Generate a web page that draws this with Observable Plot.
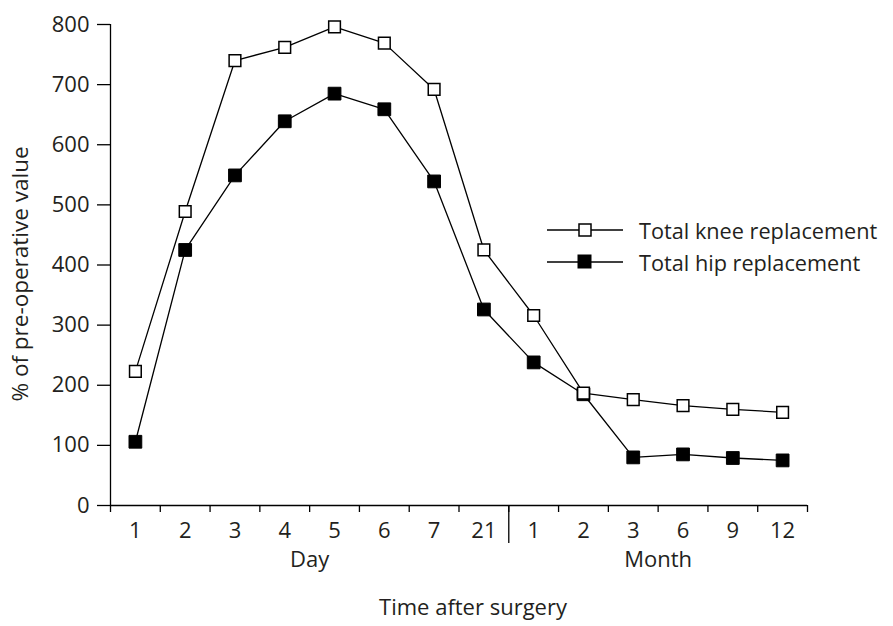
<!DOCTYPE html>
<html>
<head>
<meta charset="utf-8">
<script src="https://cdn.jsdelivr.net/npm/d3@7"></script>
<script src="https://cdn.jsdelivr.net/npm/@observablehq/plot@0.6"></script>
<style>
  body { margin: 0; background: #fff; }
  #wrap { position: relative; width: 893px; height: 626px; font-family: "Open Sans", sans-serif; color: #231f20; }
  #legend { position: absolute; left: 546px; top: 214px; }
  .row { display: flex; align-items: center; height: 32px; font-size: 21.7px; }
  .row svg { margin-right: 15px; }
</style>
</head>
<body>
<div id="wrap"><div id="legend"></div></div>
<script>
// Categories (time points) and their unit groups
const xLabels = ["1","2","3","4","5","6","7","21","1","2","3","6","9","12"];
const units   = ["Day","Day","Day","Day","Day","Day","Day","Day","Month","Month","Month","Month","Month","Month"];
// Series values (% of pre-operative value)
const knee = [223, 489, 740, 762, 796, 769, 692, 425, 316, 187, 176, 166, 160, 155];
const hip  = [106, 425, 549, 639, 685, 659, 539, 326, 238, 185,  80,  85,  79,  75];
const seriesNames = ["Total knee replacement", "Total hip replacement"];
const yTicks = [0, 100, 200, 300, 400, 500, 600, 700, 800];
const yTitle = "% of pre-operative value";
const xTitle = "Time after surgery";

const rows = xLabels.map((l, i) => ({i, pos: i + 0.5, label: l, unit: units[i], knee: knee[i], hip: hip[i]}));
const groupNames = Array.from(new Set(units));
const groups = groupNames.map(g => {
  const idx = rows.filter(r => r.unit === g).map(r => r.i);
  return {label: g, start: d3.min(idx), end: d3.max(idx) + 1};
});
const boundaries = groups.slice(1).map(g => g.start);

const ink = "#000";
const txt = "#231f20";
const chart = Plot.plot({
  width: 893, height: 626,
  marginLeft: 110, marginRight: 86, marginTop: 24, marginBottom: 121,
  style: {fontFamily: "Open Sans, sans-serif", fontSize: "22px", color: txt, background: "white"},
  x: {domain: [0, xLabels.length], axis: null},
  y: {domain: [0, 800], axis: null},
  marks: [
    Plot.axisY({ticks: yTicks, tickSize: 13, tickPadding: 8, stroke: ink, strokeWidth: 1.3, label: null, fontSize: 22}),
    Plot.axisX({ticks: d3.range(xLabels.length + 1), tickSize: 7, tickFormat: () => "", label: null, stroke: ink, strokeWidth: 1.3}),
    Plot.axisX({ticks: boundaries, tickSize: 38, tickFormat: () => "", label: null, stroke: ink, strokeWidth: 1.3}),
    Plot.axisX({ticks: rows.map(r => r.pos), tickSize: 0, tickPadding: 17, fontSize: 22,
      tickFormat: d => xLabels[Math.round(d - 0.5)], label: null}),
    Plot.ruleX([0], {y1: 0, y2: 800, stroke: ink, strokeWidth: 1.3}),
    Plot.ruleY([0], {x1: 0, x2: xLabels.length, stroke: ink, strokeWidth: 1.3}),
    Plot.text([yTitle], {text: d => d, frameAnchor: "left", textAnchor: "middle", rotate: -90, dx: -90, dy: 9, fontSize: 22.5, fill: txt}),
    Plot.text([xTitle], {text: d => d, frameAnchor: "bottom", lineAnchor: "top", dx: 14, dy: 94, fontSize: 22, fill: txt}),
    Plot.text(groups, {x: d => (d.start + d.end) / 2, text: "label", frameAnchor: "bottom", lineAnchor: "top", dy: 46, fontSize: 22, fill: txt}),
    Plot.line(rows, {x: "pos", y: "hip", stroke: ink, strokeWidth: 1.3}),
    Plot.line(rows, {x: "pos", y: "knee", stroke: ink, strokeWidth: 1.3}),
    Plot.dot(rows, {x: "pos", y: "hip", symbol: "square", r: 7.2, fill: ink, stroke: ink, strokeWidth: 1}),
    Plot.dot(rows, {x: "pos", y: "knee", symbol: "square", r: 6.6, fill: "white", stroke: ink, strokeWidth: 1.5})
  ]
});
document.getElementById("wrap").prepend(chart);

// Legend
const legend = document.getElementById("legend");
seriesNames.forEach((name, k) => {
  const row = document.createElement("div");
  row.className = "row";
  const filled = k === 1;
  row.innerHTML = `<svg width="78" height="20">
    <line x1="1" x2="77" y1="10" y2="10" stroke="#000" stroke-width="1.3"/>
    <rect x="${filled ? 32 : 33}" y="${filled ? 3 : 4}" width="${filled ? 13 : 12}" height="${filled ? 13 : 12}"
      fill="${filled ? '#000' : '#fff'}" stroke="#000" stroke-width="${filled ? 1 : 1.5}"/>
  </svg><span>${name}</span>`;
  legend.appendChild(row);
});
</script>
</body>
</html>
